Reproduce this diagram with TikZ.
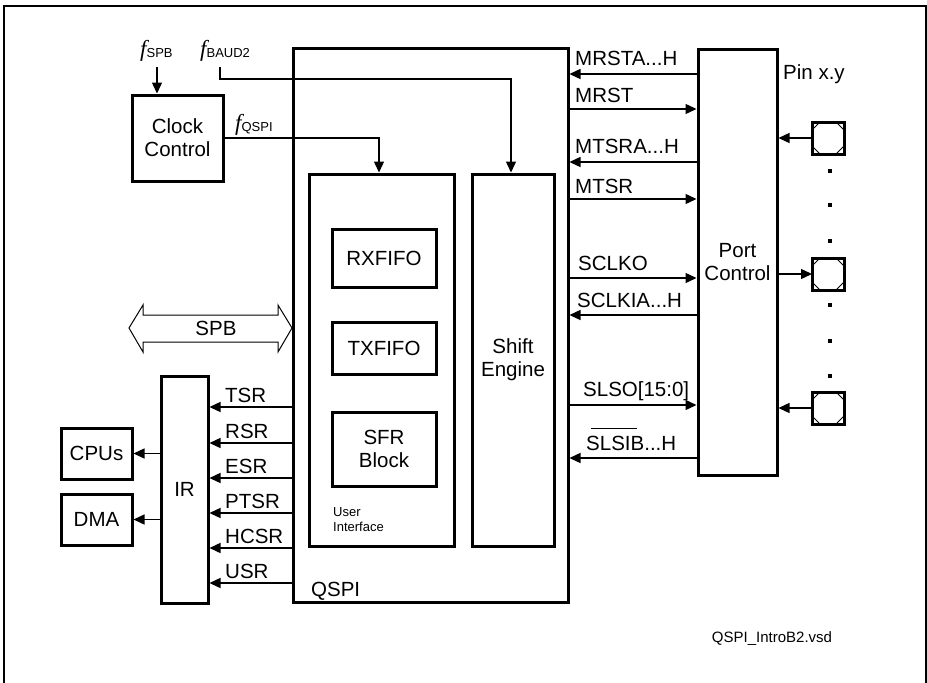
\documentclass[tikz,border=0pt]{standalone}
\usepackage{fontspec}
\setmainfont{Liberation Sans}
\newfontfamily\ffam{Liberation Serif}
\usetikzlibrary{arrows.meta}
\begin{document}
\begin{tikzpicture}[x=1pt,y=-1pt,
  box/.style={draw, line width=3pt, inner sep=0pt, align=center, font=\fontsize{20.5}{23}\selectfont},
  sig/.style={line width=1.4pt, -{Triangle[length=11pt,width=10pt]}},
  lbl/.style={inner sep=0pt, anchor=base west, font=\fontsize{20.5}{23}\selectfont},
  small/.style={inner sep=0pt, anchor=base west, font=\fontsize{13}{15}\selectfont},
  pin/.style={draw, line width=3pt, minimum size=32pt, inner sep=0pt, outer sep=0pt},
  freq/.style={inner sep=0pt, anchor=base west}
]
\useasboundingbox (0,0) rectangle (927,683);
% frame
\draw[line width=1.7pt] (4,683) -- (4,6) -- (926,6) -- (926,683);

% boxes
\node[box, minimum width=91pt, minimum height=86pt] (clock) at (177.5,138) {Clock\\Control};
\node[box, minimum width=275pt, minimum height=554pt] (qspi) at (430.5,325) {};
\node[box, minimum width=145pt, minimum height=372pt] (ui) at (381.5,360) {};
\node[box, minimum width=104pt, minimum height=58pt] (rx) at (384,258) {RXFIFO};
\node[box, minimum width=104pt, minimum height=52pt] (tx) at (384,348) {TXFIFO};
\node[box, minimum width=104pt, minimum height=74pt] (sfr) at (384,449) {SFR\\Block};
\node[box, minimum width=82pt, minimum height=372pt] (shift) at (513,360) {Shift\\Engine};
\node[box, minimum width=79pt, minimum height=426pt] (port) at (737.5,262) {Port\\Control};
\node[box, minimum width=47pt, minimum height=227pt] (ir) at (184.5,489.5) {IR};
\node[box, minimum width=71pt, minimum height=51pt] (cpus) at (96.5,453.5) {CPUs};
\node[box, minimum width=71pt, minimum height=51pt] (dma) at (96.5,519.5) {DMA};

% labels inside
\node[lbl] (qspilbl) at (311,596) {QSPI};
\node[small] (user) at (333,516) {User};
\node[small] (iface) at (333,531) {Interface};

% clock inputs
\node[freq] (fspb) at (140,56) {{\fontsize{23}{25}\ffam\itshape f}\raisebox{-1.5pt}{\fontsize{13}{15}\selectfont SPB}};
\node[freq] (fbaud) at (200,56) {{\fontsize{23}{25}\ffam\itshape f}\raisebox{-1.5pt}{\fontsize{13}{15}\selectfont BAUD2}};
\node[freq] (fqspi) at (235,130) {{\fontsize{23}{25}\ffam\itshape f}\raisebox{-1.5pt}{\fontsize{13}{15}\selectfont QSPI}};

\coordinate (fspbend) at (157,67);
\coordinate (fbaudend) at (220,67);
\coordinate (uitop) at (379,174);
\coordinate (setop) at (511,174);
\draw[sig] (fspbend) -- (fspbend |- clock.north);
\draw[sig] (fbaudend) -- ++(0,12) -| (setop |- shift.north);
\draw[sig] (clock.east) -| (uitop |- ui.north);

% right side signals
\draw[sig] (port.west |- 0,74) -- (qspi.east |- 0,74);
\draw[sig] (qspi.east |- 0,109) -- (port.west |- 0,109);
\draw[sig] (port.west |- 0,162) -- (qspi.east |- 0,162);
\draw[sig] (qspi.east |- 0,199) -- (port.west |- 0,199);
\draw[sig] (qspi.east |- 0,278) -- (port.west |- 0,278);
\draw[sig] (port.west |- 0,315) -- (qspi.east |- 0,315);
\draw[sig] (qspi.east |- 0,405) -- (port.west |- 0,405);
\draw[sig] (port.west |- 0,458) -- (qspi.east |- 0,458);

\node[lbl] (mrsta) at (575,65) {MRSTA...H};
\node[lbl] (mrst) at (575,102) {MRST};
\node[lbl] (mtsra) at (575,153) {MTSRA...H};
\node[lbl] (mtsr) at (575,193) {MTSR};
\node[lbl] (sclko) at (578,270) {SCLKO};
\node[lbl] (sclkia) at (577,307) {SCLKIA...H};
\node[lbl] (slso) at (583,396) {SLSO[15:0]};
\node[lbl] (slsib) at (586,450) {SLSIB...H};
\draw[line width=1pt] (591,428) -- (637,428);

% pins
\node[lbl] (pinlbl) at (783,79) {Pin x.y};
\node[pin] (p1) at (828,138) {};
\node[pin] (p2) at (828,274) {};
\node[pin] (p3) at (828,408) {};
\foreach \p in {p1,p2,p3}{
  \draw[line width=0.9pt] ([xshift=8pt]\p.north west) -- ([yshift=-8pt]\p.north west);
  \draw[line width=0.9pt] ([xshift=-8pt]\p.north east) -- ([yshift=-8pt]\p.north east);
  \draw[line width=0.9pt] ([xshift=8pt]\p.south west) -- ([yshift=8pt]\p.south west);
  \draw[line width=0.9pt] ([xshift=-8pt]\p.south east) -- ([yshift=8pt]\p.south east);
}
\draw[sig] (p1.west) -- (port.east |- p1.west);
\draw[sig] (port.east |- p2.west) -- (p2.west);
\draw[sig] (p3.west) -- (port.east |- p3.west);
\foreach \y in {171,205,241,305,341,376}{
  \fill (828,\y-2) rectangle (832,\y+2);
}

% SPB bus
\draw[line width=1pt] (129,328) -- (143,305) -- (143,315) -- (278,315) -- (278,305) -- (292,328)
  -- (278,352) -- (278,342) -- (143,342) -- (143,352) -- cycle;
\node[inner sep=0pt, font=\fontsize{20.5}{23}\selectfont] (spb) at (216,328) {SPB};

% interrupt signals
\foreach \y/\t in {407/TSR,443/RSR,478/ESR,513/PTSR,548/HCSR,583/USR}{
  \draw[sig] (qspi.west |- 0,\y) -- (ir.east |- 0,\y);
  \node[lbl] at (225,\y-5) {\t};
}
\draw[sig] (ir.west |- cpus.east) -- (cpus.east);
\draw[sig] (ir.west |- dma.east) -- (dma.east);

% file name
\node[inner sep=0pt, font=\fontsize{15}{17}\selectfont] (fname) at (772,639) {QSPI\_IntroB2.vsd};
\end{tikzpicture}
\end{document}
